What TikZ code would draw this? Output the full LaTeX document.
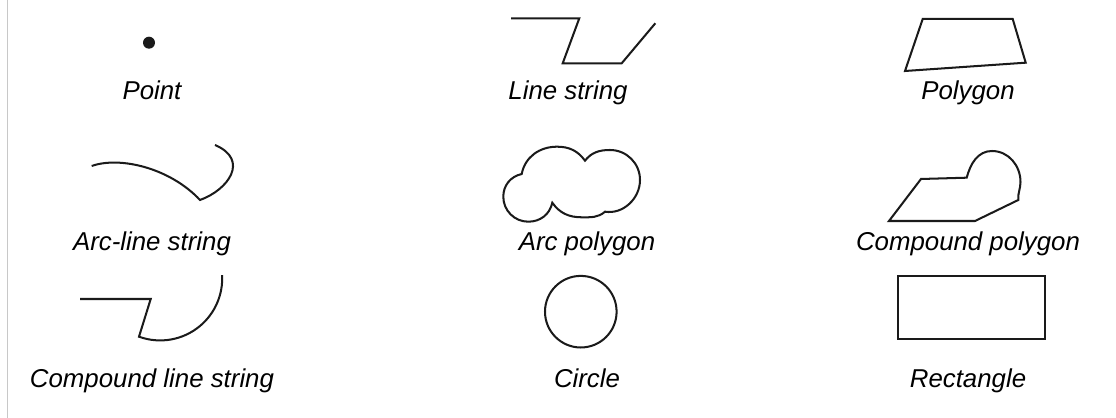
\documentclass[tikz,border=0pt]{standalone}
\usepackage{fontspec}
\setmainfont{Liberation Sans}
\definecolor{cink}{HTML}{1A1A1A}
\definecolor{crule}{HTML}{C8C8C8}
\tikzset{
  every picture/.style={x=0.02cm, y=0.02cm, line width=1.15pt},
  geom/.style={draw=cink, line join=miter},
  caption/.style={font=\fontsize{14.7}{17}\selectfont\itshape, anchor=base, inner sep=0pt},
}

\begin{document}
\begin{tikzpicture}
  \useasboundingbox (0,0) rectangle (1116,418);
  \draw[crule, line width=0.7pt] (7.3,0) -- (7.3,418);
  \foreach \X/\Y/\t [count=\k] in {
     152/318/Point, 568/318/Line string, 968/318/Polygon,
     152/167/Arc-line string, 587/167/Arc polygon, 968/167/Compound polygon,
     152/30/Compound line string, 587/30/Circle, 968/30/Rectangle} {
    \node[caption] (cap\k) at (\X,\Y) {\t};
  }
  % top row
  \fill[cink] (149,375.3) circle[radius=6];
  \draw[geom] (511,399.7) -- (579.3,399.7) -- (562.7,354.7) -- (621.7,354.7) -- (655.3,394.7);
  \draw[geom] (922.7,399) -- (1012.7,399) -- (1025.7,355.3) -- (905,347) -- cycle;
  % middle row
  \draw[geom] (91.7,252) .. controls (120,262) and (170,250) .. (200,218)
    .. controls (228,228) and (250,258) .. (215,273);
  \draw[geom] (521.7,244) to[out=193,in=90] (503.3,221.3) to[out=270,in=180] (528.3,196.3)
    to[out=0,in=258] (552.3,215.3) to[out=305,in=180] (581.7,200.7) to[out=0,in=221] (605,206.3)
    to[out=351,in=270] (640,238) to[out=90,in=0] (610,268) to[out=180,in=52] (585,257.3)
    to[out=126,in=0] (557,271.3) to[out=180,in=79] (521.7,244) -- cycle;
  \draw[geom] (889,197) -- (921,239) -- (966.7,240.3) to[out=75,in=180] (992,267)
    to[out=0,in=90] (1020.5,236) to[out=270,in=95] (1018.3,218) -- (975,197) -- cycle;
  % bottom row
  \draw[geom] (80,119) -- (150.7,119) -- (139,81.3) arc[start angle=250, end angle=363, radius=62];
  \draw[geom] (580.8,106.3) circle[radius=35.8];
  \draw[geom] (897.7,79) rectangle (1045,142);
\end{tikzpicture}
\end{document}
